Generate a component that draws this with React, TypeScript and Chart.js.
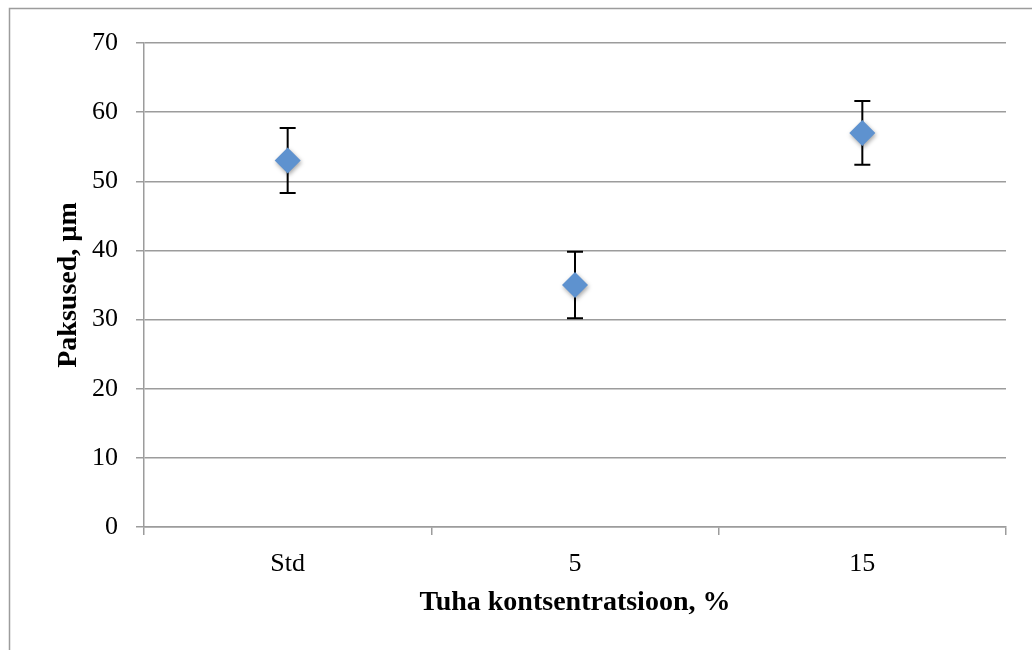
import React, { useEffect, useRef } from "react";
import { Chart, registerables } from "chart.js";

Chart.register(...registerables);

const categories = ["Std", "5", "15"];
const thickness = [53, 35, 57];
const errors = [4.7, 4.8, 4.6];
const yTicks = [0, 10, 20, 30, 40, 50, 60, 70];
const xTitle = "Tuha kontsentratsioon, %";
const yTitle = "Paksused, µm";

const FONT = "'Liberation Serif', 'Times New Roman', serif";
const GRID = "#9c9c9c";

const framePlugin = {
  id: "frame",
  beforeDraw(chart: any) {
    const ctx = chart.ctx;
    ctx.save();
    ctx.fillStyle = "#ffffff";
    ctx.fillRect(0, 0, chart.width, chart.height);
    ctx.strokeStyle = GRID;
    ctx.lineWidth = 1.5;
    ctx.beginPath();
    ctx.moveTo(9.5, chart.height);
    ctx.lineTo(9.5, 8.5);
    ctx.lineTo(chart.width, 8.5);
    ctx.stroke();
    ctx.restore();
  },
};

const errorBarPlugin = {
  id: "errorBars",
  beforeDatasetsDraw(chart: any) {
    const ctx = chart.ctx;
    const xs = chart.scales.x;
    const ys = chart.scales.y;
    ctx.save();
    ctx.strokeStyle = "#000000";
    ctx.lineWidth = 2;
    thickness.forEach((v, i) => {
      const x = xs.getPixelForValue(i);
      const top = ys.getPixelForValue(v + errors[i]);
      const bot = ys.getPixelForValue(v - errors[i]);
      const cap = 8;
      ctx.beginPath();
      ctx.moveTo(x, top);
      ctx.lineTo(x, bot);
      ctx.moveTo(x - cap, top);
      ctx.lineTo(x + cap, top);
      ctx.moveTo(x - cap, bot);
      ctx.lineTo(x + cap, bot);
      ctx.stroke();
    });
    ctx.restore();
  },
  beforeDatasetDraw(chart: any) {
    const ctx = chart.ctx;
    ctx.save();
    ctx.shadowColor = "rgba(0,0,0,0.35)";
    ctx.shadowBlur = 4;
    ctx.shadowOffsetX = 1;
    ctx.shadowOffsetY = 2;
  },
  afterDatasetDraw(chart: any) {
    chart.ctx.restore();
  },
};

export default function App() {
  const ref = useRef<HTMLCanvasElement>(null);

  useEffect(() => {
    if (!ref.current) return;
    const chart = new Chart(ref.current, {
      type: "line",
      data: {
        labels: categories,
        datasets: [
          {
            data: thickness,
            showLine: false,
            pointStyle: "rectRot",
            pointRadius: 13,
            pointHoverRadius: 13,
            backgroundColor: "#5E92CF",
            borderColor: "#5E92CF",
            borderWidth: 0,
          },
        ],
      },
      options: {
        responsive: false,
        animation: false,
        events: [],
        layout: { padding: { left: 0, top: 43, right: 26, bottom: 0 } },
        plugins: {
          legend: { display: false },
          tooltip: { enabled: false },
        },
        scales: {
          x: {
            type: "category",
            offset: true,
            afterFit: (s: any) => {
              s.height = 123;
            },
            grid: {
              offset: true,
              drawOnChartArea: false,
              drawTicks: true,
              tickLength: 8,
              color: GRID,
              lineWidth: 1.5,
            },
            border: { color: GRID, width: 1.5 },
            ticks: {
              color: "#000000",
              padding: 14,
              font: { family: FONT, size: 26 },
              maxRotation: 0,
            },
            title: {
              display: true,
              text: xTitle,
              color: "#000000",
              font: { family: FONT, size: 28, weight: "bold" },
              padding: { top: 0, bottom: 30 },
            },
          },
          y: {
            min: 0,
            max: 70,
            afterFit: (s: any) => {
              s.width = 144;
            },
            afterBuildTicks: (s: any) => {
              s.ticks = yTicks.map((v) => ({ value: v }));
            },
            grid: {
              color: GRID,
              lineWidth: 1.5,
              tickLength: 8,
            },
            border: { color: GRID, width: 1.5 },
            ticks: {
              color: "#000000",
              padding: 18,
              font: { family: FONT, size: 26 },
            },
            title: {
              display: true,
              text: yTitle,
              color: "#000000",
              font: { family: FONT, size: 28, weight: "bold" },
              padding: { top: 52, bottom: 0 },
            },
          },
        },
      },
      plugins: [framePlugin, errorBarPlugin],
    });
    return () => chart.destroy();
  }, []);

  return (
    <div
      style={{
        position: "fixed",
        left: 0,
        top: 0,
        width: 1032,
        height: 650,
        overflow: "hidden",
        background: "#fff",
      }}
    >
      <canvas ref={ref} width={1032} height={650} style={{ display: "block" }} />
    </div>
  );
}
